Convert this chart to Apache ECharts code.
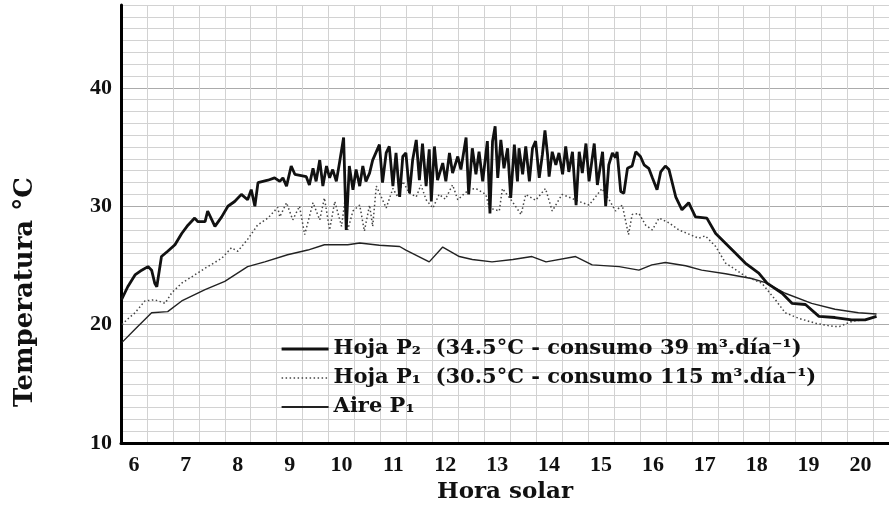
<!DOCTYPE html>
<html>
<head>
<meta charset="utf-8">
<script src="https://cdn.jsdelivr.net/npm/echarts@6/dist/echarts.min.js"></script>
<style>
html,body{margin:0;padding:0;background:#fff;}
#chart{width:889px;height:509px;}
</style>
</head>
<body>
<div id="chart"></div>
<script>
// etiquetas de horas
var horas = [6, 7, 8, 9, 10, 11, 12, 13, 14, 15, 16, 17, 18, 19, 20];
var nombres = [
	'Hoja P\u2082  (34.5\u00b0C - consumo 39 m\u00b3.d\u00eda\u207b\u00b9)',
	'Hoja P\u2081  (30.5\u00b0C - consumo 115 m\u00b3.d\u00eda\u207b\u00b9)',
	'Aire P\u2081'
];
// [hora, temperatura]
var hojaP2 = [
	[5.76,22.1],[5.88,23.2],[6.02,24.2],[6.15,24.6],[6.27,24.9],[6.34,24.6],[6.40,23.5],[6.44,23.2],
	[6.53,25.75],[6.65,26.2],[6.79,26.75],[6.92,27.7],[7.04,28.4],[7.17,29.0],[7.23,28.7],[7.37,28.7],
	[7.42,29.6],[7.56,28.3],[7.69,29.1],[7.81,30.0],[7.94,30.4],[8.07,31.0],[8.19,30.55],[8.26,31.4],
	[8.33,30.0],[8.39,32.0],[8.58,32.2],[8.71,32.4],
	[8.81,32.1],[8.87,32.4],[8.94,31.7],[9.03,33.4],[9.10,32.7],[9.32,32.5],[9.38,31.8],[9.45,33.2],
	[9.51,32.1],[9.58,33.9],[9.64,31.7],[9.71,33.4],[9.77,32.4],[9.83,33.1],[9.90,32.1],[9.96,33.65],
	[10.04,35.8],[10.09,28.0],[10.15,33.4],[10.22,31.4],[10.28,33.1],[10.35,31.7],[10.41,33.4],[10.47,32.1],
	[10.54,32.8],[10.60,33.9],[10.73,35.2],[10.79,32.0],[10.86,34.5],[10.92,35.05],[10.99,31.7],[11.05,34.5],
	[11.12,30.8],[11.18,34.2],[11.24,34.5],[11.31,31.1],[11.37,33.9],[11.44,35.6],[11.50,32.2],[11.56,35.3],
	[11.63,31.7],[11.69,34.8],[11.73,30.4],[11.79,35.05],[11.85,32.2],[11.95,33.65],[12.01,32.1],[12.08,34.5],
	[12.14,32.8],[12.24,34.2],[12.30,33.1],[12.40,35.8],[12.45,31.0],[12.52,34.9],[12.59,32.7],[12.65,34.6],
	[12.72,32.1],[12.81,35.5],[12.86,29.4],[12.91,35.5],[12.96,36.75],[13.01,32.4],[13.07,35.6],[13.13,33.2],
	[13.20,34.9],[13.26,30.7],[13.33,35.2],[13.39,32.1],[13.42,34.9],[13.49,32.7],[13.55,35.05],[13.62,32.1],
	[13.68,34.9],[13.74,35.5],[13.81,32.4],[13.87,34.35],[13.92,36.4],[13.97,34.35],[14.00,32.5],[14.06,34.6],
	[14.13,33.5],[14.19,34.5],[14.26,32.7],[14.32,35.05],[14.38,32.9],[14.45,34.6],[14.52,30.1],[14.58,34.6],
	[14.64,32.8],[14.71,35.3],[14.77,32.1],[14.87,35.3],[14.93,31.8],[15.03,34.6],[15.09,30.0],[15.15,33.5],
	[15.22,34.5],[15.28,34.1],[15.31,34.6],[15.38,31.25],[15.44,31.1],[15.51,33.2],[15.60,33.4],[15.67,34.6],
	[15.76,34.2],[15.83,33.5],[15.92,33.2],[15.99,32.4],[16.08,31.4],[16.15,32.9],[16.24,33.4],[16.31,33.1],
	[16.44,30.8],[16.56,29.7],[16.69,30.3],[16.82,29.1],[17.04,29.0],[17.21,27.7],[17.53,26.3],[17.78,25.2],
	[18.04,24.35],[18.20,23.5],[18.49,22.65],[18.68,21.8],[18.94,21.7],[19.20,20.7],[19.51,20.6],[19.83,20.4],
	[20.09,20.4],[20.31,20.7]
];
var hojaP1 = [
	[5.77,20.0],[5.86,20.4],[6.02,21.0],[6.21,22.0],[6.40,22.1],[6.60,21.8],[6.73,22.7],[6.92,23.5],
	[7.17,24.2],[7.42,24.9],[7.69,25.6],[7.88,26.5],[8.00,26.2],[8.19,27.2],[8.38,28.4],[8.58,29.0],
	[8.77,29.9],[8.81,29.1],[8.94,30.3],[9.06,28.85],[9.19,30.0],[9.29,27.6],[9.45,30.3],[9.58,28.85],
	[9.67,30.7],[9.77,28.0],[9.87,30.4],[10.00,28.3],[10.06,30.3],[10.12,28.0],[10.22,29.6],[10.35,30.1],
	[10.44,27.9],[10.54,30.1],[10.60,28.3],[10.67,31.7],[10.79,30.55],[10.86,29.85],[10.99,31.5],[11.08,30.8],
	[11.18,32.1],[11.31,31.1],[11.44,30.8],[11.53,31.8],[11.63,30.55],[11.76,29.85],[11.88,31.0],[12.00,30.6],
	[12.14,31.8],[12.24,30.55],[12.35,31.0],[12.46,31.4],[12.59,31.5],[12.78,31.0],[12.85,29.85],[13.04,29.6],
	[13.10,31.5],[13.29,30.4],[13.46,29.3],[13.55,31.0],[13.74,30.5],[13.93,31.5],[14.06,29.6],[14.25,31.0],
	[14.42,30.7],[14.58,30.4],[14.77,30.1],[15.02,31.5],[15.15,30.6],[15.28,29.6],[15.41,30.1],[15.53,27.6],
	[15.60,29.3],[15.73,29.4],[15.86,28.4],[15.99,28.0],[16.12,29.0],[16.31,28.6],[16.50,28.0],[16.88,27.3],
	[17.01,27.5],[17.21,26.6],[17.40,25.2],[17.78,24.1],[18.10,23.5],[18.36,22.1],[18.55,21.0],[18.83,20.5],
	[19.15,20.1],[19.47,19.85],[19.60,19.85],[19.85,20.3],[20.05,20.4],[20.30,20.7]
];
var aireP1 = [
	[5.77,18.5],[6.02,19.6],[6.34,21.0],[6.65,21.1],[6.92,22.0],[7.37,22.95],[7.75,23.65],[8.19,24.9],
	[8.52,25.3],[8.96,25.9],[9.35,26.3],[9.67,26.75],[10.12,26.75],[10.35,26.9],[10.73,26.7],[11.12,26.6],
	[11.24,26.3],[11.69,25.3],[11.95,26.55],[12.27,25.75],[12.52,25.5],[12.90,25.3],[13.30,25.5],[13.67,25.75],
	[13.94,25.3],[14.51,25.75],[14.83,25.05],[15.35,24.9],[15.73,24.6],[15.98,25.05],[16.24,25.25],[16.63,24.97],
	[16.94,24.6],[17.40,24.3],[17.90,23.9],[18.17,23.55],[18.55,22.65],[19.06,21.8],[19.51,21.3],[19.96,21.0],
	[20.31,20.9]
];

var serif = '"Liberation Serif", "Times New Roman", serif';
var ancha = '"DejaVu Serif", serif';
var chart = echarts.init(document.getElementById('chart'));
var option = {
	animation: false,
	backgroundColor: '#fff',
	grid: {left: 121, right: 0, top: 5, bottom: 66},
	legend: {
		orient: 'vertical',
		left: 275,
		top: 332,
		itemWidth: 47,
		itemHeight: 14,
		itemGap: 5,
		data: [
			{name: nombres[0], lineStyle: {width: 3.2}},
			{name: nombres[1], lineStyle: {width: 1.6}},
			{name: nombres[2], lineStyle: {width: 2}}
		],
		itemStyle: {opacity: 0},
		textStyle: {fontFamily: ancha, fontWeight: 'bold', fontSize: 21, color: '#111', lineHeight: 24}
	},
	xAxis: {
		type: 'value',
		min: 5.75,
		max: 20.55,
		interval: 0.5,
		name: 'Hora solar',
		nameLocation: 'middle',
		nameGap: 36,
		nameTextStyle: {fontFamily: ancha, fontWeight: 'bold', fontSize: 23, color: '#111'},
		axisLine: {show: true, lineStyle: {color: '#000', width: 3}},
		axisTick: {show: false},
		axisLabel: {
			customValues: horas,
			margin: 11,
			fontFamily: serif, fontWeight: 'bold', fontSize: 22, color: '#111'
		},
		splitLine: {show: true, lineStyle: {color: '#d2d2d2', width: 1}}
	},
	yAxis: {
		type: 'value',
		min: 10,
		max: 47,
		interval: 1,
		axisLine: {show: true, lineStyle: {color: '#000', width: 3}},
		axisTick: {show: false},
		axisLabel: {
			margin: 9,
			fontFamily: serif, fontWeight: 'bold', fontSize: 22, color: '#111',
			formatter: function(v) { return v % 10 === 0 ? v : ''; }
		},
		splitLine: {show: true, lineStyle: {
			color: ['#ababab', '#d2d2d2', '#d2d2d2', '#d2d2d2', '#d2d2d2', '#d2d2d2', '#d2d2d2', '#d2d2d2', '#d2d2d2', '#d2d2d2'],
			width: 1
		}}
	},
	graphic: [{
		type: 'text',
		x: 25,
		y: 292,
		rotation: Math.PI / 2,
		style: {
			text: 'Temperatura \u00b0C',
			font: 'bold 26px "DejaVu Serif", serif',
			fill: '#111',
			textAlign: 'center',
			textVerticalAlign: 'middle',
			align: 'center',
			verticalAlign: 'middle'
		}
	}],
	series: [
		{
			name: nombres[2], type: 'line', data: aireP1, symbol: 'none', z: 2,
			lineStyle: {color: '#222', width: 1.4}, itemStyle: {color: '#222'}
		},
		{
			name: nombres[1], type: 'line', data: hojaP1, symbol: 'none', z: 3,
			lineStyle: {color: '#444', width: 1.5, type: [1.5, 2.5]}, itemStyle: {color: '#444'}
		},
		{
			name: nombres[0], type: 'line', data: hojaP2, symbol: 'none', z: 4,
			lineStyle: {color: '#111', width: 2.8}, itemStyle: {color: '#111'}
		}
	]
};
chart.setOption(option);
</script>
</body>
</html>
